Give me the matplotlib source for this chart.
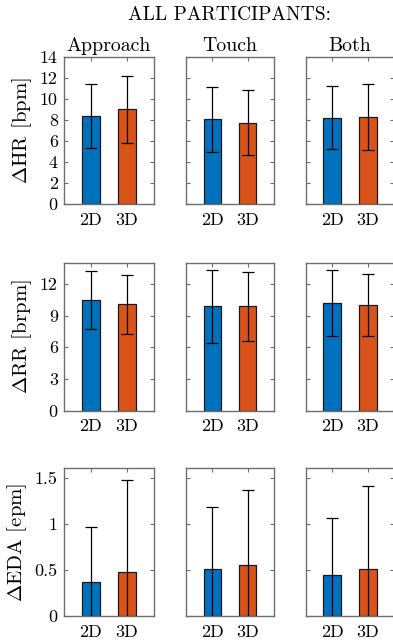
import matplotlib
matplotlib.use("Agg")
import matplotlib.pyplot as plt
import numpy as np

plt.rcParams['font.family'] = ['cmr10', 'DejaVu Serif']
plt.rcParams['mathtext.fontset'] = 'cm'
plt.rcParams['axes.unicode_minus'] = False

conditions = ["Approach", "Touch", "Both"]
groups = ["2D", "3D"]

# means and standard deviations, [condition][group]
hr_mean = [[8.38, 9.02], [8.06, 7.75], [8.22, 8.32]]
hr_sd = [[3.08, 3.20], [3.08, 3.06], [3.02, 3.15]]
rr_mean = [[10.48, 10.08], [9.86, 9.90], [10.18, 9.98]]
rr_sd = [[2.77, 2.78], [3.46, 3.26], [3.09, 2.96]]
eda_mean = [[0.365, 0.477], [0.51, 0.55], [0.44, 0.513]]
eda_sd = [[0.604, 0.998], [0.67, 0.817], [0.626, 0.894]]

row_means = [hr_mean, rr_mean, eda_mean]
row_sds = [hr_sd, rr_sd, eda_sd]
row_labels = [r"$\Delta$HR [bpm]", r"$\Delta$RR [brpm]", r"$\Delta$EDA [epm]"]
row_ylims = [(0, 14), (0, 14), (0, 1.6)]
row_yticks = [[0, 2, 4, 6, 8, 10, 12, 14], [0, 3, 6, 9, 12], [0, 0.5, 1, 1.5]]
row_yticklabels = [["0", "2", "4", "6", "8", "10", "12", "14"],
                   ["0", "3", "6", "9", "12"],
                   ["0", "0.5", "1", "1.5"]]

colors = ["#0072BD", "#D95319"]
spine_col = "#6e6e6e"

W, H = 393, 643
fig = plt.figure(figsize=(W / 100, H / 100), dpi=100)

col_px = [(64, 90), (186, 88), (305.7, 88.7)]
row_px = [(57, 204), (262.7, 410.7), (468.3, 616)]

x = np.arange(1, len(groups) + 1)
for r in range(3):
    for c in range(3):
        left, width = col_px[c]
        top, bottom = row_px[r]
        ax = fig.add_axes([left / W, 1 - bottom / H, width / W, (bottom - top) / H])
        means = row_means[r][c]
        sds = row_sds[r][c]
        ax.bar(x, means, width=0.5, color=colors, edgecolor="#1a1a1a", linewidth=0.9, zorder=2)
        ax.errorbar(x, means, yerr=sds, fmt="none", ecolor="black", elinewidth=0.9,
                    capsize=4.3, capthick=0.9, zorder=3)
        ax.set_xlim(0.25, 2.75)
        ax.set_ylim(*row_ylims[r])
        ax.set_xticks(x)
        ax.set_xticklabels(groups)
        ax.set_yticks(row_yticks[r])
        if c == 0:
            ax.set_yticklabels(row_yticklabels[r])
            ax.set_ylabel(row_labels[r], fontsize=15, labelpad=4)
        else:
            ax.set_yticklabels([])
        ax.tick_params(direction="in", length=3, width=0.8, color=spine_col,
                       labelsize=13, top=True, right=True)
        ax.tick_params(axis="x", pad=6)
        ax.tick_params(axis="y", pad=4.5)
        for s in ax.spines.values():
            s.set_color(spine_col)
            s.set_linewidth(1.0)
        if r == 0:
            ax.set_title(conditions[c], fontsize=14.3, pad=4)

fig.text(230 / W, 1 - 15 / H, "ALL PARTICIPANTS:", ha="center", va="center", fontsize=14)

fig.savefig("out.png", dpi=100)
